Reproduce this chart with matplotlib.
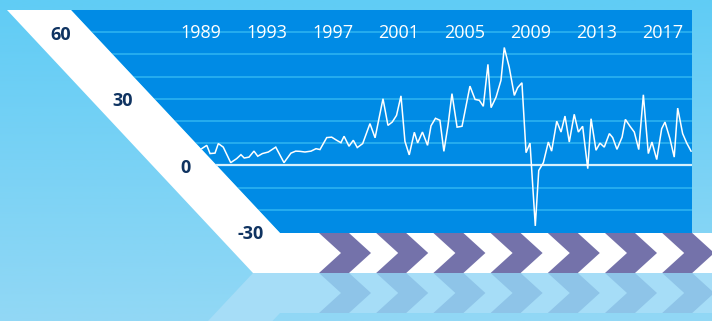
import numpy as np
import matplotlib
matplotlib.use("Agg")
import matplotlib.pyplot as plt
from matplotlib.patches import Polygon
from matplotlib.transforms import blended_transform_factory

# ---------------- data ----------------
years = [1989.04, 1989.35, 1989.55, 1989.85, 1990.05, 1990.35, 1990.80, 1991.16, 1991.42, 1991.62,
         1991.91, 1992.21, 1992.44, 1992.72, 1993.08, 1993.53, 1994.03, 1994.45, 1994.74, 1995.00,
         1995.30, 1995.67, 1995.97, 1996.21, 1996.62, 1996.92, 1997.22, 1997.48, 1997.67, 1997.97,
         1998.23, 1998.47, 1998.80, 1999.24, 1999.55, 2000.03, 2000.33, 2000.59, 2000.85, 2001.12,
         2001.36, 2001.62, 2001.93, 2002.13, 2002.42, 2002.73, 2002.94, 2003.21, 2003.48, 2003.72,
         2003.97, 2004.21, 2004.52, 2004.82, 2005.30, 2005.61, 2005.87, 2006.11, 2006.39, 2006.58,
         2006.88, 2007.18, 2007.38, 2007.68, 2007.99, 2008.19, 2008.45, 2008.70, 2008.94, 2009.26,
         2009.47, 2009.75, 2010.05, 2010.25, 2010.56, 2010.82, 2011.06, 2011.32, 2011.62, 2011.87,
         2012.13, 2012.44, 2012.64, 2012.94, 2013.18, 2013.44, 2013.75, 2013.95, 2014.21, 2014.52,
         2014.72, 2015.00, 2015.26, 2015.53, 2015.81, 2016.11, 2016.33, 2016.62, 2016.92, 2017.12,
         2017.42, 2017.68, 2017.89, 2018.19, 2018.44, 2018.70]
values = [7.5, 9.0, 5.3, 5.5, 9.8, 8.2, 1.2, 3.0, 4.8, 3.3,
          3.7, 6.4, 4.1, 5.3, 6.0, 8.2, 1.2, 5.5, 6.4, 6.3,
          6.0, 6.4, 7.5, 7.1, 12.5, 12.7, 11.3, 10.2, 13.1, 8.6,
          11.3, 8.0, 9.8, 18.8, 12.4, 30.0, 18.0, 19.5, 22.5, 31.3,
          10.8, 4.7, 14.9, 10.1, 15.0, 9.0, 17.8, 21.2, 20.3, 6.3,
          18.0, 32.3, 17.2, 17.6, 35.7, 29.7, 29.3, 26.6, 45.5, 26.0,
          30.7, 38.3, 53.1, 44.2, 31.5, 35.0, 37.2, 5.7, 10.0, -27.3,
          -2.3, 1.2, 10.5, 6.4, 19.9, 15.0, 22.2, 10.5, 23.0, 15.0,
          17.6, -1.5, 21.0, 6.8, 10.0, 8.2, 14.3, 12.5, 7.2, 12.7,
          20.7, 17.6, 15.0, 7.1, 31.8, 5.3, 10.5, 2.6, 16.5, 19.5,
          12.0, 3.7, 25.8, 14.3, 10.0, 6.4]
x_ticks = [1989, 1993, 1997, 2001, 2005, 2009, 2013, 2017]
y_labels = [60, 30, 0, -30]
grid_levels = [60, 50, 40, 30, 20, 10, -10, -20]

# ---------------- style ----------------
W, H = 712, 321
PANEL = "#008be5"
GRID = "#30b6f2"
NAVY = "#0f3361"
PURPLE = "#7472aa"

fig = plt.figure(figsize=(W / 100, H / 100), dpi=100)

# background axes in pixel coordinates
bg = fig.add_axes([0, 0, 1, 1], zorder=0)
bg.set_xlim(0, W)
bg.set_ylim(H, 0)
bg.axis("off")
top = np.array([96, 204, 245]) / 255
bot = np.array([146, 216, 245]) / 255
t = np.linspace(0, 1, 200)[:, None]
grad = (top[None, :] * (1 - t) + bot[None, :] * t)[:, None, :]
bg.imshow(grad, extent=[0, W, H, 0], aspect="auto", zorder=0)

panel_verts = [(71, 10), (692, 10), (692, 233), (280, 233)]
bg.add_patch(Polygon(panel_verts, closed=True, facecolor=PANEL, edgecolor="none", zorder=1))

# reflection below the band
refl = [(253, 273), (712, 273), (712, 313), (280, 313), (272.5, 321), (208, 321)]
bg.add_patch(Polygon(refl, closed=True, facecolor="#a6ddf7", edgecolor="none", zorder=1))

# chart axes
x0px, x1px, y0px, y1px = 71, 692, 10, 233
ax = fig.add_axes([x0px / W, (H - y1px) / H, (x1px - x0px) / W, (y1px - y0px) / H], zorder=1)
ax.patch.set_visible(False)
ax.set_xlim(1989 + (x0px - 201) / 16.5, 1989 + (x1px - 201) / 16.5)
ax.set_ylim(-30.5, 70)
ax.axis("off")

clip = Polygon(panel_verts, closed=True, transform=bg.transData)
hl = ax.hlines(grid_levels, ax.get_xlim()[0], ax.get_xlim()[1], colors=GRID, linewidth=1.1, zorder=2)
hl.set_clip_path(clip)
zl = ax.axhline(0, color="#d6f1fd", linewidth=1.6, zorder=3)
zl.set_clip_path(clip)
ln, = ax.plot(years, values, color="white", linewidth=1.1, zorder=4, solid_joinstyle="miter")
ln.set_clip_path(clip)

# x labels at top inside panel
tr = blended_transform_factory(ax.transData, bg.transData)
for yr in x_ticks:
    ax.text(yr, 33, str(yr), transform=tr, color="white", fontsize=13, family="Open Sans",
            ha="center", va="center", zorder=5)

# overlay: white band + chevrons + y labels
ov = fig.add_axes([0, 0, 1, 1], zorder=3)
ov.set_xlim(0, W)
ov.set_ylim(H, 0)
ov.axis("off")
ov.patch.set_visible(False)
band = [(7, 10), (71, 10), (280, 233), (712, 233), (712, 273), (253, 273)]
ov.add_patch(Polygon(band, closed=True, facecolor="white", edgecolor="none", zorder=1))

period, w, d = 57.2, 30, 22
for k in range(8):
    xs = 319 + k * period
    chev = [(xs, 233), (xs + w, 233), (xs + w + d, 253), (xs + w, 273), (xs, 273), (xs + d, 253)]
    ov.add_patch(Polygon(chev, closed=True, facecolor=PURPLE, edgecolor="none", zorder=2))
    chev_r = [(xs, 273), (xs + w, 273), (xs + w + d, 293), (xs + w, 313), (xs, 313), (xs + d, 293)]
    bg.add_patch(Polygon(chev_r, closed=True, facecolor="#8ec4e8", edgecolor="none", zorder=2))

fig.canvas.draw()
for v in y_labels:
    ypix = H - ax.transData.transform((ax.get_xlim()[0], v))[1]
    xpix = 40 + 0.936 * (ypix - 10) + (3 if v < 0 else 0)
    ov.text(xpix, ypix + 2.5, str(v) if v >= 0 else "-" + str(abs(v)), color=NAVY, fontsize=13,
            fontweight="bold", family="Open Sans", ha="center", va="center", zorder=3)

fig.savefig("out.png", dpi=100)
